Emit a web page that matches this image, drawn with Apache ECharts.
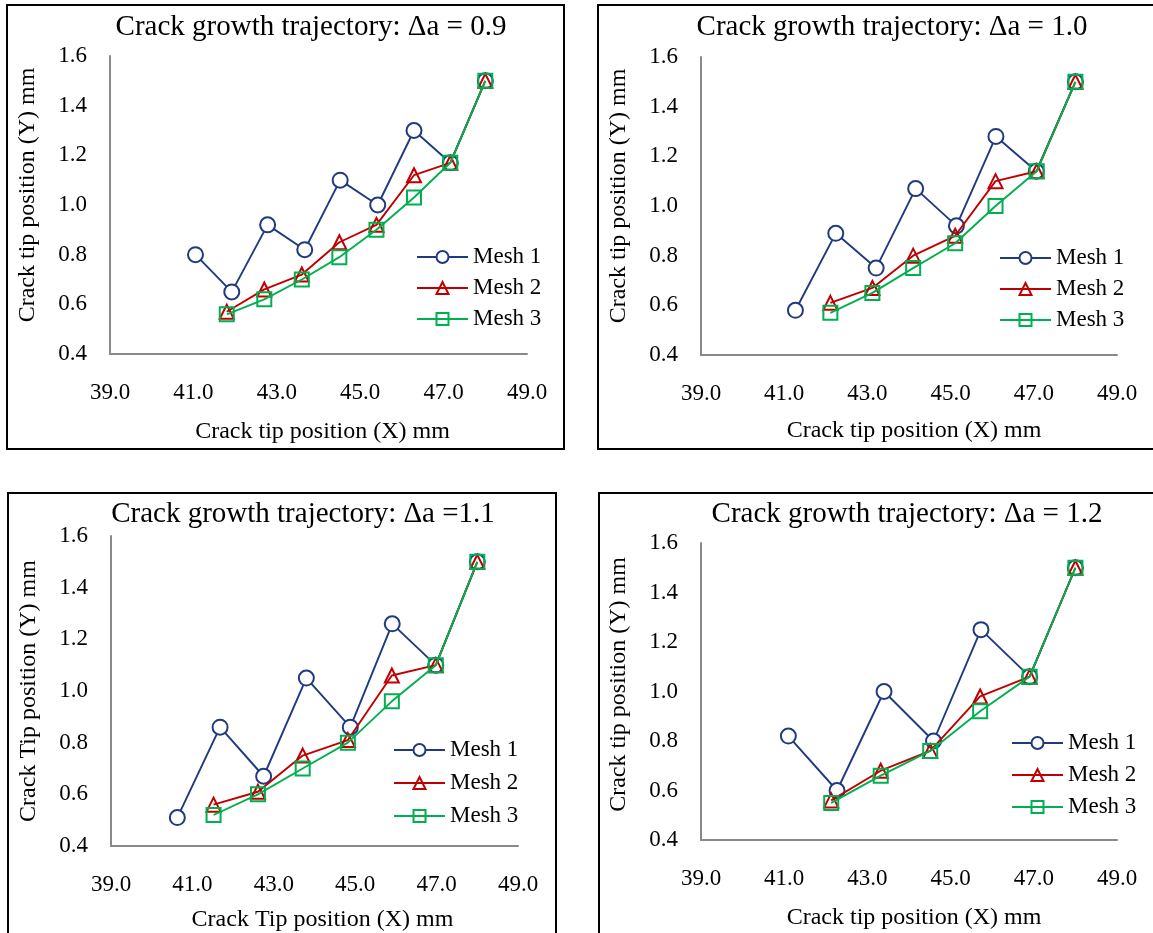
<!DOCTYPE html>
<html>
<head>
<meta charset="utf-8">
<script src="https://cdn.jsdelivr.net/npm/echarts@6/dist/echarts.min.js"></script>
<style>
  html, body { margin: 0; padding: 0; background: #fff; }
  #chart { width: 1153px; height: 933px; }
</style>
</head>
<body>
<div id="chart"></div>
<script>
// ---------- data ----------
const seriesNames = ['Mesh 1', 'Mesh 2', 'Mesh 3'];
const panelTitles = [
  'Crack growth trajectory: \u0394a = 0.9',
  'Crack growth trajectory: \u0394a = 1.0',
  'Crack growth trajectory: \u0394a =1.1',
  'Crack growth trajectory: \u0394a = 1.2'
];
const xAxisTitles = [
  'Crack tip position (X) mm',
  'Crack tip position (X) mm',
  'Crack Tip position (X) mm',
  'Crack tip position (X) mm'
];
const yAxisTitles = [
  'Crack tip position (Y) mm',
  'Crack tip position (Y) mm',
  'Crack Tip position (Y) mm',
  'Crack tip position (Y) mm'
];
const xMin = 39, xMax = 49, xStep = 2;
const yMin = 0.4, yMax = 1.6, yStep = 0.2;

// Δa = 0.9
const p1_mesh1_x = [41.05, 41.92, 42.78, 43.67, 44.52, 45.42, 46.29, 47.16, 48.0];
const p1_mesh1_y = [0.80, 0.65, 0.92, 0.82, 1.10, 1.00, 1.30, 1.17, 1.50];
const p1_mesh23_x = [41.80, 42.70, 43.60, 44.50, 45.39, 46.29, 47.16, 48.0];
const p1_mesh2_y = [0.57, 0.66, 0.72, 0.85, 0.92, 1.12, 1.17, 1.50];
const p1_mesh3_y = [0.56, 0.62, 0.70, 0.79, 0.90, 1.03, 1.17, 1.50];

// Δa = 1.0
const p2_mesh1_x = [41.27, 42.24, 43.21, 44.16, 45.14, 46.09, 47.06, 48.0];
const p2_mesh1_y = [0.58, 0.89, 0.75, 1.07, 0.92, 1.28, 1.14, 1.50];
const p2_mesh23_x = [42.11, 43.12, 44.10, 45.11, 46.08, 47.07, 48.0];
const p2_mesh2_y = [0.61, 0.67, 0.80, 0.88, 1.10, 1.14, 1.50];
const p2_mesh3_y = [0.57, 0.65, 0.75, 0.85, 1.00, 1.14, 1.50];

// Δa = 1.1
const p3_mesh1_x = [40.63, 41.68, 42.75, 43.80, 44.88, 45.91, 46.98, 48.0];
const p3_mesh1_y = [0.51, 0.86, 0.67, 1.05, 0.86, 1.26, 1.10, 1.50];
const p3_mesh23_x = [41.52, 42.61, 43.71, 44.82, 45.90, 46.98, 48.0];
const p3_mesh2_y = [0.56, 0.61, 0.75, 0.81, 1.06, 1.10, 1.50];
const p3_mesh3_y = [0.52, 0.60, 0.70, 0.80, 0.96, 1.10, 1.50];

// Δa = 1.2
const p4_mesh1_x = [41.10, 42.27, 43.40, 44.59, 45.73, 46.90, 48.0];
const p4_mesh1_y = [0.82, 0.60, 1.00, 0.80, 1.25, 1.06, 1.50];
const p4_mesh23_x = [42.13, 43.32, 44.51, 45.71, 46.90, 48.0];
const p4_mesh2_y = [0.56, 0.68, 0.76, 0.98, 1.06, 1.50];
const p4_mesh3_y = [0.55, 0.66, 0.76, 0.92, 1.06, 1.50];

// ---------- build ----------
const FONT = '"Liberation Serif", "Times New Roman", serif';
const COLORS = ['#1F3A7E', '#C00000', '#00B050'];
const SYMBOLS = ['circle', 'triangle', 'rect'];
const SYMBOL_SIZES = [15, 14, 14];
const FILLS = ['#ffffff', 'transparent', 'transparent'];

function pair(xs, ys) { return xs.map((x, i) => [x, ys[i]]); }

const panelData = [
  [pair(p1_mesh1_x, p1_mesh1_y), pair(p1_mesh23_x, p1_mesh2_y), pair(p1_mesh23_x, p1_mesh3_y)],
  [pair(p2_mesh1_x, p2_mesh1_y), pair(p2_mesh23_x, p2_mesh2_y), pair(p2_mesh23_x, p2_mesh3_y)],
  [pair(p3_mesh1_x, p3_mesh1_y), pair(p3_mesh23_x, p3_mesh2_y), pair(p3_mesh23_x, p3_mesh3_y)],
  [pair(p4_mesh1_x, p4_mesh1_y), pair(p4_mesh23_x, p4_mesh2_y), pair(p4_mesh23_x, p4_mesh3_y)]
];

const layout = [
  { grid: {left: 110, top: 56, width: 417, height: 298}, title: [311, 13], legend: [416, 245], legendGap: 7, xGap: 66, xShift: 8, yGap: 70, yShift: 20, box: [7, 5, 557, 444] },
  { grid: {left: 701, top: 57, width: 416, height: 298}, title: [892, 13], legend: [999, 246], legendGap: 7, xGap: 64, xShift: 10, yGap: 70, yShift: 20, box: [598, 5, 600, 444] },
  { grid: {left: 111, top: 536, width: 407, height: 310}, title: [303, 500], legend: [393, 738], legendGap: 9, xGap: 62, xShift: 16, yGap: 70, yShift: 0, box: [8, 493, 548, 500] },
  { grid: {left: 701, top: 543, width: 416, height: 297}, title: [907, 500], legend: [1011, 731], legendGap: 8, xGap: 66, xShift: 10, yGap: 70, yShift: 14, box: [599, 493, 600, 500] }
];

const axisLineStyle = { color: '#898989', width: 2 };
const option = {
  backgroundColor: '#ffffff',
  animation: false,
  textStyle: { fontFamily: FONT, color: '#000' },
  title: [], grid: [], xAxis: [], yAxis: [], legend: [], series: [],
  graphic: []
};

layout.forEach((L, p) => {
  option.grid.push(Object.assign({ containLabel: false }, L.grid));
  option.title.push({
    text: panelTitles[p], left: L.title[0], top: L.title[1], textAlign: 'center', padding: 0,
    textStyle: { fontFamily: FONT, fontSize: 29, fontWeight: 'normal', color: '#000' }
  });
  option.xAxis.push({
    type: 'value', gridIndex: p, min: xMin, max: xMax, interval: xStep,
    name: xAxisTitles[p], nameLocation: 'middle', nameGap: L.xGap,
    nameTextStyle: { fontFamily: FONT, fontSize: 24, color: '#000', padding: [0, 0, 0, L.xShift] },
    axisLine: { show: true, onZero: false, lineStyle: axisLineStyle },
    axisTick: { show: false }, splitLine: { show: false },
    axisLabel: { fontFamily: FONT, fontSize: 23, color: '#000', margin: 27, formatter: v => v.toFixed(1) }
  });
  option.yAxis.push({
    type: 'value', gridIndex: p, min: yMin, max: yMax, interval: yStep,
    name: yAxisTitles[p], nameLocation: 'middle', nameGap: L.yGap,
    nameTextStyle: { fontFamily: FONT, fontSize: 24, color: '#000', padding: [0, 0, 0, L.yShift] },
    axisLine: { show: true, onZero: false, lineStyle: axisLineStyle },
    axisTick: { show: false }, splitLine: { show: false },
    axisLabel: { fontFamily: FONT, fontSize: 23, color: '#000', margin: 23, formatter: v => v.toFixed(1) }
  });
  option.legend.push({
    orient: 'vertical', left: L.legend[0], top: L.legend[1], padding: 0,
    itemWidth: 51, itemHeight: 15, itemGap: L.legendGap,
    data: seriesNames, selectedMode: false,
    textStyle: { fontFamily: FONT, fontSize: 23, color: '#000', lineHeight: 24 }
  });
  seriesNames.forEach((name, s) => {
    option.series.push({
      type: 'line', name: name, xAxisIndex: p, yAxisIndex: p,
      data: panelData[p][s],
      symbol: SYMBOLS[s], symbolSize: SYMBOL_SIZES[s], showAllSymbol: true,
      lineStyle: { color: COLORS[s], width: 1.9 },
      itemStyle: { color: FILLS[s], borderColor: COLORS[s], borderWidth: 2 },
      emphasis: { disabled: true },
      z: 2 + s
    });
  });
  option.graphic.push({
    type: 'rect', silent: true, z: -1,
    shape: { x: L.box[0], y: L.box[1], width: L.box[2], height: L.box[3] },
    style: { fill: 'none', stroke: '#000', lineWidth: 2 }
  });
});

const chart = echarts.init(document.getElementById('chart'), null, { renderer: 'canvas' });
chart.setOption(option);
</script>
</body>
</html>
